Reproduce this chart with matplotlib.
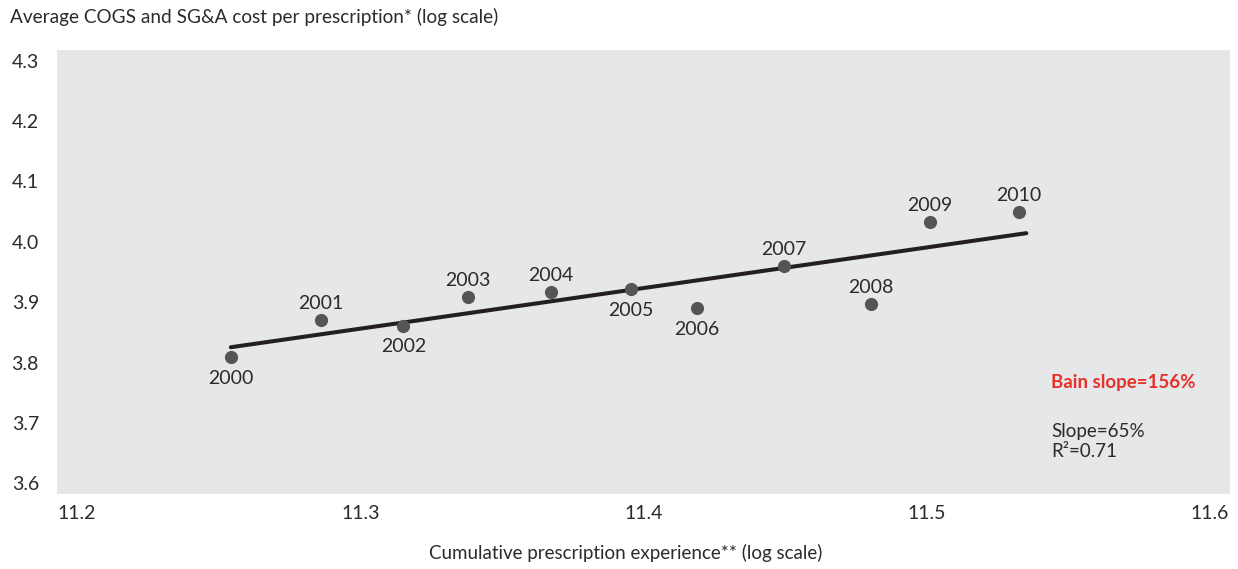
import numpy as np
import matplotlib
matplotlib.use("Agg")
import matplotlib.pyplot as plt

plt.rcParams['font.family'] = ['Lato', 'DejaVu Sans']

# cumulative prescriptions (log) vs. cost per prescription (log), one point per year
years = ["2000", "2001", "2002", "2003", "2004", "2005", "2006", "2007", "2008", "2009", "2010"]
experience = [11.2543, 11.2862, 11.3152, 11.3380, 11.3673, 11.3955, 11.4188, 11.4496, 11.4804, 11.5012, 11.5327]
cost = [3.8087, 3.8705, 3.8610, 3.9080, 3.9174, 3.9213, 3.8899, 3.9600, 3.8965, 4.0333, 4.0499]
label_side = ["below", "above", "below", "above", "above", "below", "below", "above", "above", "above", "above"]

x_ticks = [11.2, 11.3, 11.4, 11.5, 11.6]
y_ticks = [3.6, 3.7, 3.8, 3.9, 4.0, 4.1, 4.2, 4.3]

text_col = "#2b2a2c"
panel_col = "#e6e7e9"

x = np.array(experience)
y = np.array(cost)

# least-squares trend line
slope, intercept = np.polyfit(x, y, 1)
fit_x = np.array([x.min(), x.max() + 0.0025])
fit_y = slope * fit_x + intercept

fig = plt.figure(figsize=(12.38, 5.69), dpi=100)
ax = fig.add_axes([0.046, 0.1318, 0.9475, 0.7803])
ax.set_facecolor(panel_col)
for s in ax.spines.values():
    s.set_visible(False)

ax.plot(fit_x, fit_y, color="#231f20", lw=2.9, solid_capstyle="round", zorder=2)
ax.scatter(x, y, s=90, color="#555558", zorder=3, linewidths=0)

for yr, xi, yi, side in zip(years, x, y, label_side):
    dy = 12 if side == "above" else -15
    ax.annotate(yr, (xi, yi), xytext=(0, dy), textcoords="offset points",
                ha="center", va="center", fontsize=14, color=text_col)

ax.set_xlim(11.1929, 11.6071)
ax.set_ylim(3.5823, 4.3177)
ax.set_xticks(x_ticks)
ax.set_xticklabels([f"{v:.1f}" for v in x_ticks])
ax.set_yticks(y_ticks)
ax.set_yticklabels([f"{v:.1f}" for v in y_ticks])
ax.tick_params(axis="both", length=0, labelsize=14, colors=text_col)
ax.tick_params(axis="y", pad=13)
ax.tick_params(axis="x", pad=8)

ax.text(0.8475, 0.252, "Bain slope=156%", transform=ax.transAxes, fontsize=13.5,
        fontweight="bold", color="#e8312b", ha="left", va="center")
ax.text(0.8475, 0.118, "Slope=65%\nR²=0.71", transform=ax.transAxes, fontsize=13.5,
        color=text_col, ha="left", va="center", linespacing=1.25)

fig.text(10 / 1238, 1 - 17 / 569, "Average COGS and SG&A cost per prescription* (log scale)",
         fontsize=13.7, color=text_col, ha="left", va="center")
fig.text(626 / 1238, 1 - 553 / 569, "Cumulative prescription experience** (log scale)",
         fontsize=13.5, color=text_col, ha="center", va="center")

fig.savefig("out.png", dpi=100)
